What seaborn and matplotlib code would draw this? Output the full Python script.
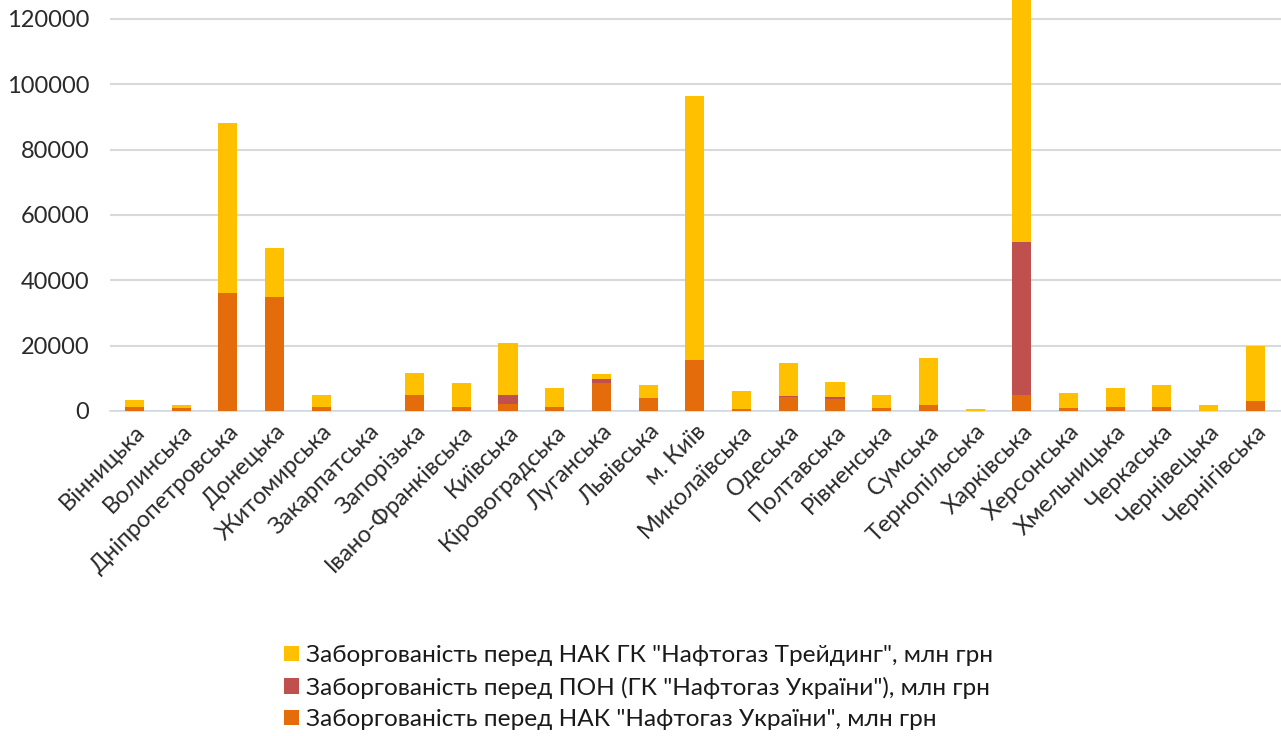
import numpy as np
import pandas as pd
import matplotlib
matplotlib.use("Agg")
import matplotlib.pyplot as plt
import seaborn as sns
from matplotlib.patches import Patch

# ── Дані ──────────────────────────────────────────────────
REGIONS = ["Вінницька", "Волинська", "Дніпропетровська", "Донецька", "Житомирська",
           "Закарпатська", "Запорізька", "Івано-Франківська", "Київська", "Кіровоградська",
           "Луганська", "Львівська", "м. Київ", "Миколаївська", "Одеська", "Полтавська",
           "Рівненська", "Сумська", "Тернопільська", "Харківська", "Херсонська",
           "Хмельницька", "Черкаська", "Чернівецька", "Чернігівська"]

# НАК "Нафтогаз України"
NAK = [1200, 1000, 36000, 35000, 1300, 0, 4900, 1300, 2000, 1300,
       8500, 4100, 15600, 600, 4400, 3600, 1000, 1800, 100, 4900,
       1000, 1300, 1300, 0, 3200]
# ПОН (ГК "Нафтогаз України")
PON = [0, 0, 0, 0, 0, 0, 0, 0, 2900, 0,
       1300, 0, 0, 0, 200, 800, 0, 0, 0, 46900,
       0, 0, 0, 0, 0]
# НАК ГК "Нафтогаз Трейдинг"
TRADING = [2200, 800, 52250, 14800, 3600, 0, 6600, 7200, 16000, 5800,
           1400, 3900, 80900, 5600, 10000, 4400, 3900, 14500, 500, 80000,
           4400, 5800, 6700, 1800, 16800]

LABELS = ['Заборгованість перед НАК ГК "Нафтогаз Трейдинг", млн грн',
          'Заборгованість перед ПОН (ГК "Нафтогаз України"), млн грн',
          'Заборгованість перед НАК "Нафтогаз України", млн грн']
COLORS = ["#FFC000", "#C0504D", "#E46C0A"]

df = pd.DataFrame({"region": REGIONS, "nak": NAK, "pon": PON, "trading": TRADING})
df["lvl1"] = df["nak"]
df["lvl2"] = df["nak"] + df["pon"]
df["lvl3"] = df["lvl2"] + df["trading"]

# ── Графік ────────────────────────────────────────────────
sns.set_style("white")
plt.rcParams["font.family"] = ["Lato", "DejaVu Sans"]

fig = plt.figure(figsize=(12.81, 7.36), dpi=100)
ax = fig.add_axes([0.086, 0.4416, 0.914, 0.5584])

for col, color in zip(["lvl3", "lvl2", "lvl1"], COLORS):
    sns.barplot(data=df, x="region", y=col, color=color, width=0.41,
                saturation=1, ax=ax, zorder=3, edgecolor="none", linewidth=0)

ax.set_ylim(0, 125800)
ax.set_xlim(-0.52, 24.55)
ax.set_yticks(np.arange(0, 120001, 20000))
ax.yaxis.grid(True, color="#d9d9d9", linewidth=1.5, zorder=0)
ax.set_axisbelow(True)
for s in ["top", "right", "left"]:
    ax.spines[s].set_visible(False)
ax.spines["bottom"].set_color("#d0dbe6")
ax.spines["bottom"].set_linewidth(1.2)
ax.set_xlabel("")
ax.set_ylabel("")
ax.tick_params(axis="both", length=0, labelsize=17, colors="#2a2a2a")
ax.tick_params(axis="y", pad=15)
plt.setp(ax.get_xticklabels(), rotation=45, ha="right", rotation_mode="anchor")
ax.tick_params(axis="x", pad=7)

handles = [Patch(facecolor=c, edgecolor="none") for c in COLORS]
fig.legend(handles, LABELS, loc="upper left", bbox_to_anchor=(0.2125, 0.14),
           frameon=False, fontsize=17.6, handlelength=0.6, handleheight=0.6,
           handletextpad=0.3, labelspacing=0.43, borderpad=0, labelcolor="#1a1a1a")

fig.savefig("out.png", dpi=100)
